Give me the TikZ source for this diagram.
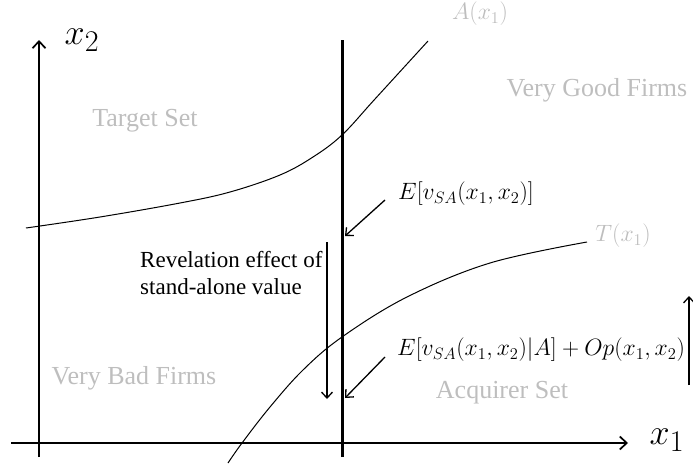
\documentclass[tikz,border=0pt]{standalone}
\usepackage{fontspec}
\setmainfont{Liberation Serif}
\usetikzlibrary{arrows.meta}
\definecolor{lbl}{RGB}{190,190,190}
\tikzset{
  axis/.style={line width=1.7pt,-{Straight Barb[length=7pt,width=13pt,line width=1.7pt]}},
  pointer/.style={line width=1.3pt,-{Straight Barb[length=6pt,width=11pt,line width=1.3pt]}},
  curve/.style={line width=1pt},
  region/.style={text=lbl,font=\fontsize{26}{30}\selectfont,inner sep=0pt},
  mathlbl/.style={font=\fontsize{22}{26}\selectfont,inner sep=0pt,scale=1.14},
  axlbl/.style={font=\fontsize{31}{36}\selectfont,inner sep=0pt,scale=1.45},
}
\begin{document}
\begin{tikzpicture}[x=1pt,y=-1pt]
\useasboundingbox (0,0) rectangle (693,463);
% axes
\coordinate (ylo) at (39,457);
\coordinate (yhi) at (39,40);
\coordinate (xlo) at (11,443);
\coordinate (xhi) at (628,443);
\draw[axis] (ylo) -- (yhi);
\draw[axis] (xlo) -- (xhi);
\node[axlbl] (x2lbl) at (82,40) {$x_2$};
\node[axlbl] (x1lbl) at (667,440) {$x_1$};
% thick threshold line
\coordinate (tlo) at (342,457);
\coordinate (thi) at (342,40);
\draw[line width=3pt] (tlo) -- (thi);
% curves
\draw[curve] plot[smooth,tension=0.6] coordinates {(26,228) (100,217) (180,203) (230,192) (280,175) (313,157) (342,135) (375,99) (428,41)};
\draw[curve] plot[smooth,tension=0.6] coordinates {(228,463) (242,443) (270,407) (303,370) (342,337) (407,297) (490,263) (587,242)};
% region labels
\node[region] (tset) at (145,121) {Target Set};
\node[region] (vgood) at (597,90) {Very Good Firms};
\node[region] (vbad) at (134,378) {Very Bad Firms};
\node[region] (acq) at (502,393) {Acquirer Set};
\node[mathlbl,text=lbl] (alab) at (480,14) {$A(x_1)$};
\node[mathlbl,text=lbl] (tlab) at (623,236) {$T(x_1)$};
% math labels
\node[mathlbl,anchor=west] (ev) at (398,194) {$E[v_{SA}(x_1,x_2)]$};
\node[mathlbl,anchor=west] (eva) at (397,350) {$E[v_{SA}(x_1,x_2)|A]+Op(x_1,x_2)$};
\coordinate (p1s) at (385,200);
\coordinate (p1e) at (345,236);
\draw[pointer] (p1s) -- (p1e);
\coordinate (p2s) at (385,357);
\coordinate (p2e) at (345,398);
\draw[pointer] (p2s) -- (p2e);
% revelation effect
\node[font=\fontsize{23}{27}\selectfont,align=left,anchor=north west,inner sep=0pt] (rev) at (140,251) {Revelation effect of\\stand-alone value};
\coordinate (r1) at (327,242);
\coordinate (r2) at (327,399);
\draw[pointer] (r1) -- (r2);
% upward arrow on right
\coordinate (u1) at (689,385);
\coordinate (u2) at (689,296);
\draw[pointer] (u1) -- (u2);
\end{tikzpicture}
\end{document}
